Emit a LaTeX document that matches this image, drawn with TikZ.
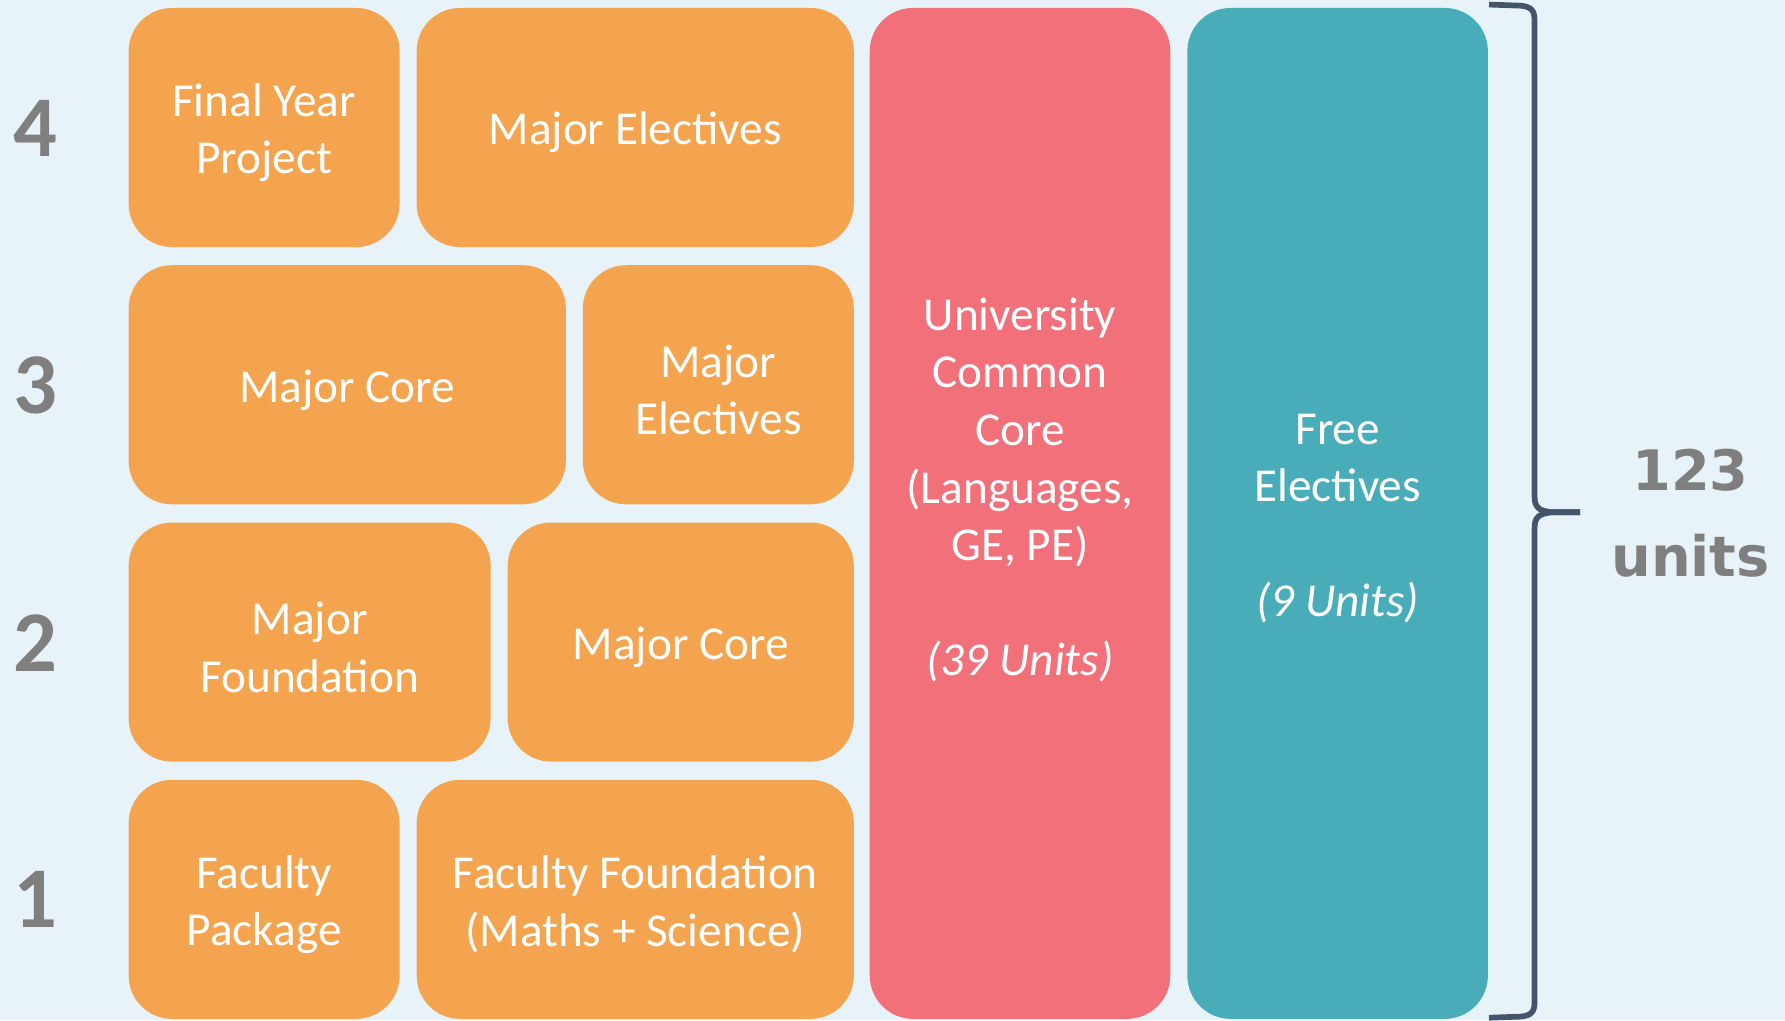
\documentclass[tikz,border=0pt]{standalone}
\usepackage{fontspec}
\setmainfont{Carlito}
\newfontfamily\totalfont{DejaVu Sans}
\definecolor{bgblue}{HTML}{E8F3F9}
\definecolor{coreorange}{HTML}{F4A44E}
\definecolor{uccred}{HTML}{F1707A}
\definecolor{freeteal}{HTML}{48ADB9}
\definecolor{yeargrey}{HTML}{7F7F7F}
\definecolor{bracegrey}{HTML}{44546A}
\begin{document}
\begin{tikzpicture}[x=1pt,y=-1pt,
  blktext/.style={inner sep=0pt, text=white, align=center, yshift=-4.5pt,
    font=\fontsize{41.5}{50.6}\selectfont},
  blk/.style={rounded corners=38pt, inner sep=0pt},
  orangeblk/.style={blk, fill=coreorange, minimum height=210pt},
  yearlbl/.style={text=yeargrey, inner sep=0pt, font=\fontsize{76}{80}\selectfont\bfseries}]
\fill[bgblue] (0,0) rectangle (1568,896);

% year 4
\node[orangeblk, minimum width=238pt, label={[blktext]center:Final Year\\Project}] (fyp) at (232,112) {};
\node[orangeblk, minimum width=384pt, label={[blktext]center:Major Electives}] (elecfour) at (558,112) {};
% year 3
\node[orangeblk, minimum width=384pt, label={[blktext]center:Major Core}] (corethree) at (305,338) {};
\node[orangeblk, minimum width=238pt, label={[blktext]center:Major\\Electives}] (electhree) at (631,338) {};
% year 2
\node[orangeblk, minimum width=318pt, label={[blktext]center:Major\\Foundation}] (found) at (272,564) {};
\node[orangeblk, minimum width=304pt, label={[blktext]center:Major Core}] (coretwo) at (598,564) {};
% year 1
\node[orangeblk, minimum width=238pt, label={[blktext]center:Faculty\\Package}] (facpack) at (232,790) {};
\node[orangeblk, minimum width=384pt, label={[blktext]center:Faculty Foundation\\(Maths + Science)}] (facfound) at (558,790) {};

% common core and free electives
\node[blk, fill=uccred, minimum width=264pt, minimum height=888pt] (ucc) at (896,451) {};
\node[blktext] (ucctext) at (896,426) {University\\Common\\Core\\(Languages,\\GE, PE)\\[50.6pt]\textit{(39 Units)}};
\node[blk, fill=freeteal, minimum width=264pt, minimum height=888pt] (free) at (1175,451) {};
\node[blktext] (freetext) at (free.center) {Free\\Electives\\[50.6pt]\textit{(9 Units)}};

\node[yearlbl] (yfour) at (31,113) {4};
\node[yearlbl] (ythree) at (31,339) {3};
\node[yearlbl] (ytwo) at (31,565) {2};
\node[yearlbl] (yone) at (31,790) {1};

% brace
\draw[bracegrey, line width=5pt] (1308,4) -- (1336,5) .. controls (1345,6) and (1348,9) .. (1348,18) -- (1348,436) .. controls (1348,446) and (1352,449) .. (1364,450) -- (1388,450);
\draw[bracegrey, line width=5pt] (1388,450) -- (1364,450) .. controls (1352,451) and (1348,454) .. (1348,464) -- (1348,880) .. controls (1348,889) and (1345,892) .. (1336,893) -- (1308,894);

\node[text=yeargrey, align=center, inner sep=0pt, font=\totalfont\bfseries\fontsize{49}{76}\selectfont] (total) at (1485,451) {123\\units};
\end{tikzpicture}
\end{document}
